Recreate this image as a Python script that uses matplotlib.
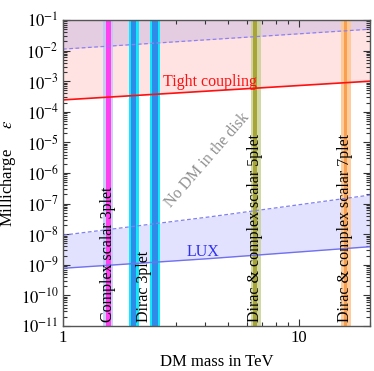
import numpy as np
import matplotlib
matplotlib.use("Agg")
import matplotlib.pyplot as plt
from matplotlib.ticker import LogLocator, NullFormatter, FixedLocator

plt.rcParams['font.family'] = ['Liberation Serif', 'DejaVu Serif']
plt.rcParams['mathtext.fontset'] = 'stix'

# ---- data ----
mass_ends = [1.0, 20.0]
tight_coupling = [2.45e-4, 1.0e-3]
upper_dashed = [1.12e-2, 5.0e-2]
lux_mass = [1.0, 4.2, 20.0]
lux_solid = [7.7e-10, 1.6e-9, 3.9e-9]
lux_dashed = [9.3e-9, 3.7e-8, 1.9e-7]

# bands: (outer_lo, outer_hi, core_lo, core_hi)
band_cs3 = (1.482, 1.623, 1.517, 1.592)
band_d3a = (1.904, 2.105, 1.947, 2.045)
band_d3b = (2.33, 2.58, 2.375, 2.53)
band_5 = (6.24, 6.90, 6.40, 6.66)
band_7 = (15.07, 16.56, 15.5, 16.0)

labels_v = ["Complex scalar 3plet", "Dirac 3plet",
            "Dirac & complex scalar 5plet", "Dirac & complex scalar 7plet"]

fig = plt.figure(figsize=(3.74, 3.71), dpi=100)
ax = fig.add_axes([63/374, 1-326/371, 307/374, 306/371])
ax.set_xscale('log')
ax.set_yscale('log')
ax.set_xlim(1, 20)
ax.set_ylim(1e-11, 1e-1)

top = 1e-1
# red tight coupling region
ax.fill_between(mass_ends, tight_coupling, top, color='#ffe3e3', lw=0, zorder=1)
# purple region
ax.fill_between(mass_ends, upper_dashed, top, color='#cbb8e0', alpha=0.5, lw=0, zorder=1.1)
ax.plot(mass_ends, upper_dashed, color='#8f80f0', lw=0.9, ls=(0, (3, 2)), zorder=3)
ax.plot(mass_ends, tight_coupling, color='#ff1010', lw=1.2, zorder=3)

# LUX band
ax.fill_between(lux_mass, lux_solid, lux_dashed, color='#e2e2ff', lw=0, zorder=1)
ax.plot(lux_mass, lux_dashed, color='#8080f0', lw=0.9, ls=(0, (3, 2)), zorder=3)
ax.plot(lux_mass, lux_solid, color='#7070f0', lw=1.0, zorder=3)

def band(b, outer, core, oa=1.0, ca=1.0):
    ax.axvspan(b[0], b[1], color=outer, alpha=oa, lw=0, zorder=2)
    ax.axvspan(b[2], b[3], color=core, alpha=ca, lw=0, zorder=2.1)

band(band_cs3, '#b8c4f8', '#ff40ee', 0.75, 1.0)
band(band_d3a, '#10e8ff', '#2e8ce8')
band(band_d3b, '#10e8ff', '#2e8ce8')
band(band_5, '#c8d090', '#a4a02c', 0.8, 0.9)
band(band_7, '#ffc890', '#f8a050', 0.9, 1.0)

tr = ax.get_xaxis_transform()
fs = 11.5
lx = [np.sqrt(band_cs3[0]*band_cs3[1]), np.sqrt(band_d3a[1]*band_d3b[0]),
      np.sqrt(band_5[0]*band_5[1]) * 0.99, np.sqrt(band_7[0]*band_7[1]) * 0.99]
for x, t in zip(lx, labels_v):
    ax.text(x, 0.012, t, rotation=90, ha='center', va='bottom', transform=tr,
            fontsize=fs, color='black', zorder=4)

ax.text(4.2, 6.9e-4, "Tight coupling", color='#ff1010', fontsize=fs,
        ha='center', va='baseline', zorder=4)
ax.text(3.35, 1.95e-9, "LUX", color='#3030f0', fontsize=fs,
        ha='left', va='baseline', zorder=4)
ax.text(4.1, 2.66e-6, "No DM in the disk", color='#909090', fontsize=fs,
        ha='center', va='center', rotation=49, rotation_mode='anchor', zorder=4)

# ticks
ax.xaxis.set_major_locator(FixedLocator([1, 10]))
ax.set_xticklabels(['1', '10'])
ax.xaxis.set_minor_locator(LogLocator(base=10, subs=np.arange(2, 10)))
ax.xaxis.set_minor_formatter(NullFormatter())
yt = [10.0**k for k in range(-11, 0)]
ax.yaxis.set_major_locator(FixedLocator(yt))
ax.set_yticklabels([r'$10^{%d}$' % k for k in range(-11, 0)])
ax.yaxis.set_minor_locator(LogLocator(base=10, subs=np.arange(2, 10), numticks=30))
ax.yaxis.set_minor_formatter(NullFormatter())
ax.tick_params(which='both', direction='in', top=True, right=True,
               color='#333333', labelsize=12, width=0.8)
ax.tick_params(which='major', length=5)
ax.tick_params(which='minor', length=3)
ax.tick_params(axis='x', pad=3)
ax.tick_params(axis='y', pad=3)
for s in ax.spines.values():
    s.set_color('#555555')
    s.set_linewidth(1.0)
    s.set_zorder(5)

ax.set_xlabel("DM mass in TeV", fontsize=12)
ax.xaxis.set_label_coords(0.5, -0.09)
ax.set_ylabel(r"Millicharge     $\epsilon$", fontsize=12)
ax.yaxis.set_label_coords(-0.145, 0.5)

fig.savefig("out.png", dpi=100)
